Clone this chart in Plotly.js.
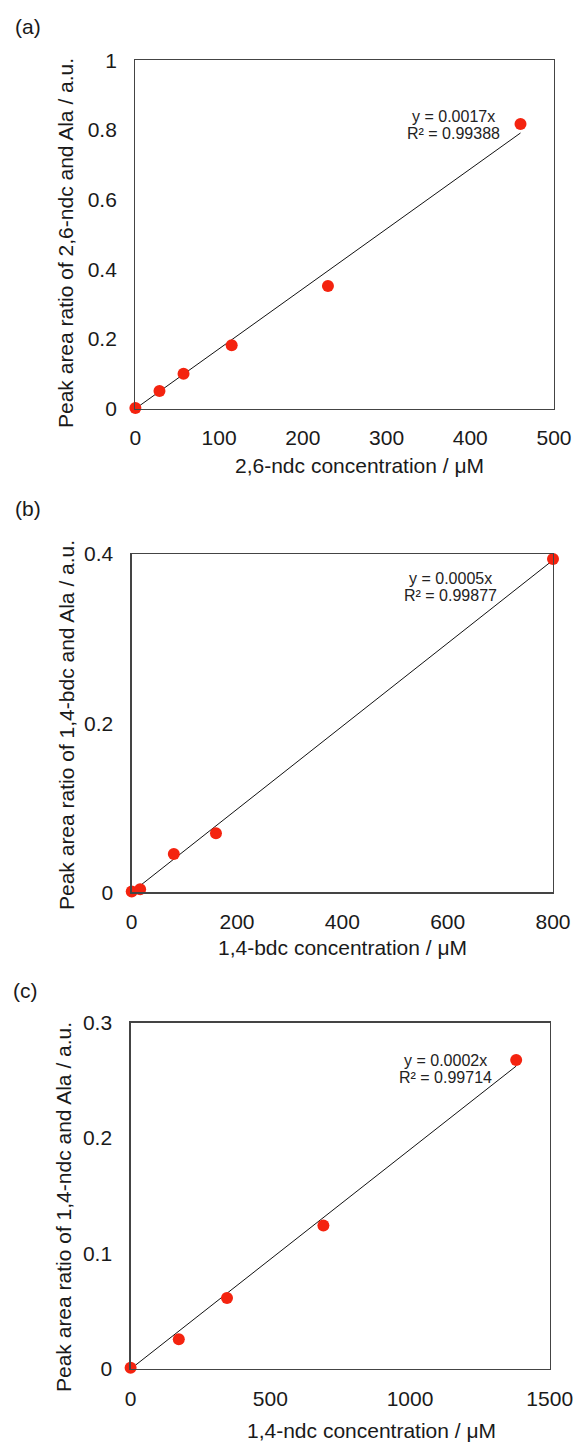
<!DOCTYPE html>
<html>
<head>
<meta charset="utf-8">
<script src="https://cdn.plot.ly/plotly-3.0.1.min.js"></script>
<style>html,body{margin:0;padding:0;background:#fff;}#chart{width:577px;height:1443px;}</style>
</head>
<body>
<div id="chart"></div>
<script>
// Panel (a): 2,6-ndc
const concA = [0, 28.75, 57.5, 115, 230, 460];
const ratioA = [0.002, 0.051, 0.100, 0.182, 0.352, 0.817];
const eqA = ["y = 0.0017x", "R² = 0.99388"];
// Panel (b): 1,4-bdc
const concB = [0, 16, 80, 160, 800];
const ratioB = [0.001, 0.0035, 0.0453, 0.0698, 0.394];
const eqB = ["y = 0.0005x", "R² = 0.99877"];
// Panel (c): 1,4-ndc
const concC = [0, 172.5, 345, 690, 1380];
const ratioC = [0.001, 0.0257, 0.0615, 0.1244, 0.2677];
const eqC = ["y = 0.0002x", "R² = 0.99714"];

const panelLabels = ["(a)", "(b)", "(c)"];
const xTitles = ["2,6-ndc concentration / μM", "1,4-bdc concentration / μM", "1,4-ndc concentration / μM"];
const yTitles = ["Peak area ratio of 2,6-ndc and Ala / a.u.", "Peak area ratio of 1,4-bdc and Ala / a.u.", "Peak area ratio of 1,4-ndc and Ala / a.u."];

function slopeThroughOrigin(xs, ys) {
  let sxy = 0, sxx = 0;
  for (let i = 0; i < xs.length; i++) { sxy += xs[i] * ys[i]; sxx += xs[i] * xs[i]; }
  return sxy / sxx;
}

const W = 577, H = 1443;
const FONT = "Liberation Sans, Arial, sans-serif";
const TXT = "#1a1a1a";
const red = "#f4230f";

const sets = [
  {x: concA, y: ratioA, eq: eqA, xa: "x", ya: "y"},
  {x: concB, y: ratioB, eq: eqB, xa: "x2", ya: "y2"},
  {x: concC, y: ratioC, eq: eqC, xa: "x3", ya: "y3"}
];

const traces = [];
sets.forEach(s => {
  const k = slopeThroughOrigin(s.x, s.y);
  const xmax = Math.max(...s.x);
  traces.push({x: [0, xmax], y: [0, k * xmax], xaxis: s.xa, yaxis: s.ya, mode: "lines",
    line: {color: "#111", width: 1}, hoverinfo: "skip", showlegend: false, cliponaxis: false});
  traces.push({x: s.x, y: s.y, xaxis: s.xa, yaxis: s.ya, mode: "markers",
    marker: {color: red, size: 12}, showlegend: false, cliponaxis: false});
});

// pixel boxes [left, right, top, bottom]
const boxes = [[135.4, 554, 60.3, 408.7], [131.7, 553, 554, 892.3], [130.6, 549.7, 1022.7, 1369]];
const xr = [[0, 500], [0, 800], [0, 1500]];
const yr = [[0, 1], [0, 0.4], [0, 0.3]];
const xd = [100, 200, 500];
const yd = [0.2, 0.2, 0.1];

const layout = {
  width: W, height: H,
  margin: {l: 0, r: 0, t: 0, b: 0},
  paper_bgcolor: "#fff", plot_bgcolor: "#fff",
  font: {family: FONT, size: 21, color: TXT},
  showlegend: false,
  annotations: []
};

const axisBase = {
  showline: true, mirror: true, linecolor: "#444", linewidth: 1.3,
  showgrid: false, zeroline: false, ticks: "", tickfont: {family: FONT, size: 21, color: TXT}
};

const suffix = ["", "2", "3"];
boxes.forEach((b, i) => {
  const xs = "xaxis" + suffix[i], ys = "yaxis" + suffix[i];
  layout[xs] = Object.assign({}, axisBase, {
    domain: [b[0] / W, b[1] / W], range: xr[i], dtick: xd[i], tick0: 0,
    anchor: "y" + suffix[i], ticklabelstandoff: 10
  });
  layout[ys] = Object.assign({}, axisBase, {
    domain: [1 - b[3] / H, 1 - b[2] / H], range: yr[i], dtick: yd[i], tick0: 0,
    anchor: "x" + suffix[i], ticklabelstandoff: 13
  });
});

function ann(text, px, py, opts) {
  return Object.assign({text: text, xref: "paper", yref: "paper", x: px / W, y: 1 - py / H,
    showarrow: false, xanchor: "center", yanchor: "middle",
    font: {family: FONT, size: 21, color: TXT}}, opts || {});
}
const xTitlePos = [[359, 465], [342, 947], [371.6, 1430]];
const yTitlePos = [[66, 243], [66, 725], [63, 1207]];
const labelPos = [[12.5, 26.7], [12.5, 508], [11, 990]];
const eqX = [453, 450, 445];
const eqY = [[116.7, 133.3], [578, 595], [1060.5, 1077]];
for (let i = 0; i < 3; i++) {
  layout.annotations.push(ann(xTitles[i], xTitlePos[i][0], xTitlePos[i][1]));
  layout.annotations.push(ann(yTitles[i], yTitlePos[i][0], yTitlePos[i][1], {textangle: -90}));
  layout.annotations.push(ann(panelLabels[i], labelPos[i][0], labelPos[i][1], {xanchor: "left"}));
  for (let j = 0; j < 2; j++) {
    layout.annotations.push(ann(sets[i].eq[j], eqX[i], eqY[i][j],
      {font: {family: FONT, size: 16, color: "#222"}}));
  }
}

Plotly.newPlot("chart", traces, layout, {displayModeBar: false, staticPlot: true});
</script>
</body>
</html>
